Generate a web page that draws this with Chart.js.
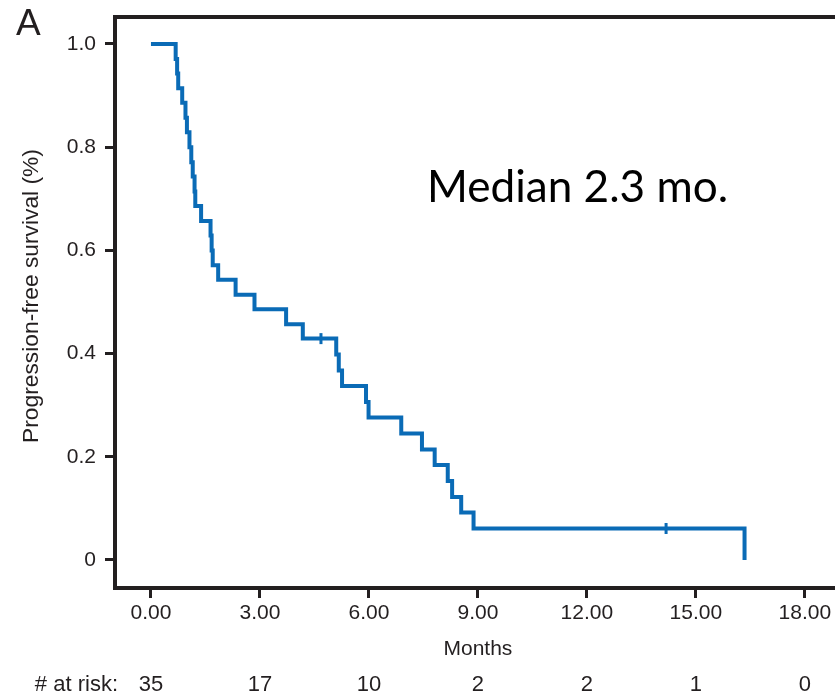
<!DOCTYPE html>
<html>
<head>
<meta charset="utf-8">
<script src="https://cdn.jsdelivr.net/npm/chart.js@4.4.1/dist/chart.umd.min.js"></script>
<style>
  html, body { margin: 0; padding: 0; background: #ffffff; }
  #wrap { width: 835px; height: 695px; }
</style>
</head>
<body>
<div id="wrap"><canvas id="km" width="835" height="695"></canvas></div>
<script>
// Kaplan-Meier step curve: time (months) of each step and survival after it
const stepMonths = [0, 0.68, 0.72, 0.75, 0.86, 0.95, 0.99, 1.06, 1.11, 1.15, 1.20, 1.22,
  1.38, 1.64, 1.67, 1.70, 1.85, 2.33, 2.85, 3.72, 4.18, 5.10, 5.17, 5.26, 5.92, 5.99,
  6.89, 7.46, 7.81, 8.17, 8.29, 8.54, 8.88, 16.34];
const survival = [1.000, 0.971, 0.943, 0.914, 0.886, 0.857, 0.829, 0.800, 0.771, 0.743, 0.714, 0.686,
  0.657, 0.629, 0.600, 0.571, 0.543, 0.514, 0.486, 0.457, 0.429, 0.398, 0.367, 0.337, 0.306, 0.276,
  0.245, 0.214, 0.184, 0.153, 0.122, 0.092, 0.061, 0.000];

// Censored observations
const censorMonths = [4.68, 14.18];
const censorSurvival = [0.429, 0.061];

// Axis ticks and number-at-risk table
const xTicks = [0, 3, 6, 9, 12, 15, 18];
const yTicks = [0, 0.2, 0.4, 0.6, 0.8, 1.0];
const atRisk = [35, 17, 10, 2, 2, 1, 0];

const INK = '#231f20';
const BLUE = '#0a6bb6';
const SANS = '"Liberation Sans", Arial, Helvetica, sans-serif';

const kmPoints = stepMonths.map((t, i) => ({ x: t, y: survival[i] }));
const censorPoints = censorMonths.map((t, i) => ({ x: t, y: censorSurvival[i] }));

// Frame top edge, panel letter, median note, axis titles and at-risk row
const annotations = {
  id: 'annotations',
  afterDraw(chart) {
    const { ctx, chartArea, scales } = chart;
    const xs = scales.x;
    ctx.save();

    // top edge of the frame, running off the right side
    ctx.strokeStyle = INK;
    ctx.lineWidth = 4;
    ctx.beginPath();
    ctx.moveTo(chartArea.left - 2, chartArea.top);
    ctx.lineTo(chart.width, chartArea.top);
    ctx.stroke();

    ctx.fillStyle = INK;

    // panel letter
    ctx.font = '37px ' + SANS;
    ctx.textAlign = 'left';
    ctx.textBaseline = 'alphabetic';
    ctx.fillText('A', 16, 35);

    // median note
    ctx.fillStyle = '#000000';
    ctx.font = '40px Lato, "Open Sans", sans-serif';
    const mw = ctx.measureText('Median 2.3 mo.').width;
    const ms = 40 * 301 / mw;
    ctx.font = ms.toFixed(1) + 'px Lato, "Open Sans", sans-serif';
    ctx.fillText('Median 2.3 mo.', 427, 202);

    // y axis title
    ctx.fillStyle = INK;
    const yTitle = 'Progression-free survival (%)';
    ctx.font = '20px ' + SANS;
    const tw = ctx.measureText(yTitle).width;
    ctx.font = (20 * 294 / tw).toFixed(1) + 'px ' + SANS;
    ctx.save();
    ctx.translate(32, 296);
    ctx.rotate(-Math.PI / 2);
    ctx.textAlign = 'center';
    ctx.textBaseline = 'middle';
    ctx.fillText(yTitle, 0, 0);
    ctx.restore();

    // x axis title
    ctx.font = '21px ' + SANS;
    ctx.textAlign = 'center';
    ctx.textBaseline = 'middle';
    ctx.fillText('Months', xs.getPixelForValue(9), 649);

    // number at risk
    ctx.font = '22px ' + SANS;
    ctx.textAlign = 'right';
    ctx.fillText('# at risk:', 118, 685);
    ctx.textAlign = 'center';
    xTicks.forEach((t, i) => {
      ctx.fillText(String(atRisk[i]), xs.getPixelForValue(t), 685);
    });

    ctx.restore();
  }
};

new Chart(document.getElementById('km'), {
  type: 'line',
  data: {
    datasets: [
      {
        label: 'PFS',
        data: kmPoints,
        stepped: 'before',
        borderColor: BLUE,
        borderWidth: 4,
        pointRadius: 0,
        fill: false,
        borderCapStyle: 'butt',
        borderJoinStyle: 'miter'
      },
      {
        label: 'Censored',
        type: 'scatter',
        data: censorPoints,
        showLine: false,
        pointStyle: 'line',
        rotation: 90,
        pointRadius: 5.5,
        borderWidth: 3,
        borderColor: BLUE,
        backgroundColor: BLUE
      }
    ]
  },
  options: {
    responsive: false,
    animation: false,
    devicePixelRatio: 1,
    layout: { autoPadding: false, padding: { top: 17, right: 0, left: 0, bottom: 0 } },
    plugins: {
      legend: { display: false },
      tooltip: { enabled: false }
    },
    scales: {
      x: {
        type: 'linear',
        min: -0.99,
        max: 18.83,
        afterBuildTicks(scale) { scale.ticks = xTicks.map(v => ({ value: v })); },
        afterFit(scale) { scale.height = 107; scale.paddingLeft = 0; scale.paddingRight = 0; },
        ticks: {
          color: INK,
          font: { family: SANS, size: 21 },
          padding: 3,
          maxRotation: 0,
          autoSkip: false,
          callback: v => Number(v).toFixed(2)
        },
        grid: { drawOnChartArea: false, drawTicks: true, tickLength: 10, color: INK, lineWidth: 3 },
        border: { display: true, color: INK, width: 4 }
      },
      y: {
        type: 'linear',
        min: -0.0543,
        max: 1.0523,
        afterBuildTicks(scale) { scale.ticks = yTicks.map(v => ({ value: v })); },
        afterFit(scale) { scale.width = 115; scale.paddingTop = 0; scale.paddingBottom = 0; },
        ticks: {
          color: INK,
          font: { family: SANS, size: 21 },
          padding: 9,
          autoSkip: false,
          callback: v => (v === 0 ? '0' : Number(v).toFixed(1))
        },
        grid: { drawOnChartArea: false, drawTicks: true, tickLength: 10, color: INK, lineWidth: 3 },
        border: { display: true, color: INK, width: 4 }
      }
    }
  },
  plugins: [annotations]
});
</script>
</body>
</html>
